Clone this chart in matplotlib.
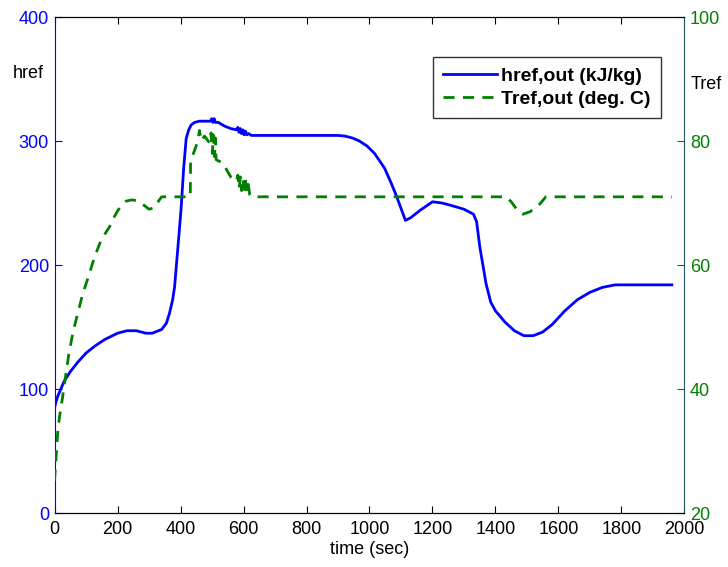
import matplotlib.pyplot as plt

plt.rcParams['font.family'] = ['Liberation Sans', 'DejaVu Sans']

# enthalpy at reformer outlet (kJ/kg)
t_h = [0, 5, 10, 20, 30, 50, 75, 100, 130, 160, 200, 230, 260, 290, 310,
       340, 355, 365, 375, 381, 391, 402, 410, 418, 426, 434, 445, 460,
       480, 495, 499, 503, 507, 511, 520, 540, 560, 578, 582, 586, 590,
       594, 598, 602, 606, 610, 616, 625, 650, 700, 800, 900, 921, 945,
       968, 992, 1016, 1048, 1069, 1085, 1101, 1114, 1130, 1160, 1200,
       1230, 1260, 1300, 1330, 1340, 1350, 1370, 1385, 1400, 1430, 1460,
       1490, 1520, 1550, 1580, 1620, 1660, 1700, 1740, 1780, 1800, 1900,
       1960]
h_out = [85, 90, 94, 100, 106, 114, 122, 129, 135, 140, 145, 147, 147,
         145, 145, 148, 153, 161, 172, 182, 212, 246, 278, 302, 309, 313,
         315, 316, 316, 316, 318, 315, 318, 315, 315, 312, 310, 309, 311,
         307, 310, 306, 309, 305, 308, 305, 306, 304.5, 304.5, 304.5,
         304.5, 304.5, 304, 302.5, 300, 296, 290, 278, 266, 256, 245, 236,
         238, 244, 251, 250, 248, 245, 241, 235, 215, 185, 170, 163, 154,
         147, 143, 143, 146, 152, 163, 172, 178, 182, 184, 184, 184, 184]

# temperature at reformer outlet (deg C)
t_T = [0, 5, 10, 16, 25, 32, 45, 58, 75, 90, 110, 127, 143, 160, 175, 190,
       201, 215, 227, 245, 260, 280, 300, 315, 330, 340, 431, 432, 444,
       455, 460, 466, 476, 492, 497, 501, 504, 508, 511, 513, 520, 534,
       548, 561, 578, 582, 586, 590, 594, 598, 602, 606, 610, 615, 620,
       625, 1434, 1450, 1470, 1487, 1510, 1540, 1560, 1571, 1960]
T_out = [25.2, 29, 33, 35.6, 38.5, 41, 45.5, 49, 52.5, 55.4, 58.5, 61.3,
         63.4, 65, 66.2, 67.8, 68.8, 69.7, 70.3, 70.5, 70.4, 69.8, 69.0,
         69.2, 70.3, 71, 71, 76.8, 78.4, 80, 81.7, 80, 80.8, 79.7, 81.3,
         78, 81, 77.5, 80.5, 77, 76.8, 76.5, 75.2, 74.1, 73.5, 74.5, 72.3,
         74.2, 72, 74, 72.2, 73.8, 71.8, 73, 71.3, 71, 71, 70.2, 68.8, 68.2,
         68.6, 69.8, 71, 71, 71]

blue = '#0000ff'
green = '#008000'

fig = plt.figure(figsize=(7.28, 5.67), dpi=100)
ax1 = fig.add_axes([0.0749, 0.0952, 0.8653, 0.8748])
ax2 = ax1.twinx()

l1, = ax1.plot(t_h, h_out, color=blue, lw=2, label='href,out (kJ/kg)')
l2, = ax2.plot(t_T, T_out, color=green, lw=2, ls=(0, (4, 3)),
               label='Tref,out (deg. C)')

ax1.set_xlim(0, 2000)
ax1.set_ylim(0, 400)
ax2.set_ylim(20, 100)
ax1.set_xticks(range(0, 2001, 200))
ax1.set_yticks(range(0, 401, 100))
ax2.set_yticks(range(20, 101, 20))

ax1.tick_params(axis='x', direction='in', labelsize=13, colors='black',
                length=5, top=True, pad=6)
ax1.tick_params(axis='y', direction='in', labelsize=13, colors=blue,
                length=5, pad=4)
ax2.tick_params(axis='y', direction='in', labelsize=13, colors=green,
                length=5, pad=4)

ax1.spines['left'].set_color(blue)
ax2.spines['left'].set_visible(False)
ax2.spines['right'].set_color('#1f5a6a')
ax1.spines['right'].set_visible(False)
for ax in (ax1, ax2):
    ax.spines['top'].set_color('black')

ax1.set_xlabel('time (sec)', fontsize=13, labelpad=2)
fig.text(0.018, 0.871, 'href', fontsize=13, va='center', ha='left')
fig.text(0.948, 0.851, 'Tref', fontsize=13, va='center', ha='left')

leg = ax2.legend(handles=[l1, l2], loc='upper right',
                 bbox_to_anchor=(0.962, 0.919), borderaxespad=0,
                 frameon=True, fancybox=False, edgecolor='black',
                 handlelength=2.8, borderpad=0.5, labelspacing=0.3,
                 handletextpad=0.2, prop={'weight': 'bold', 'size': 14})
leg.get_frame().set_linewidth(1.0)

fig.savefig('out.png', dpi=100)
